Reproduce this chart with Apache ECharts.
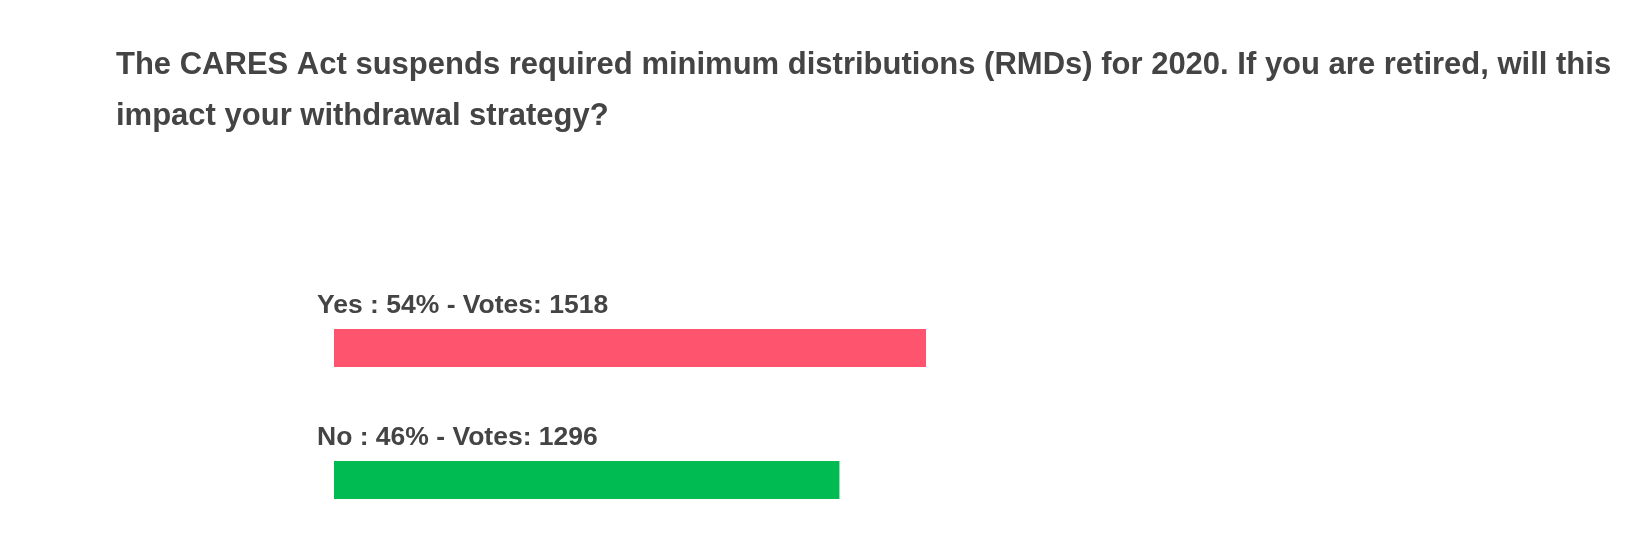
<!DOCTYPE html>
<html>
<head>
<meta charset="utf-8">
<script src="https://cdn.jsdelivr.net/npm/echarts@6/dist/echarts.min.js"></script>
<style>
html,body{margin:0;padding:0;background:#fff;}
#chart{width:1640px;height:558px;}
</style>
</head>
<body>
<div id="chart"></div>
<script>
const titleLines = [
  "The CARES Act suspends required minimum distributions (RMDs) for 2020. If you are retired, will this",
  "impact your withdrawal strategy?"
];
const categories = ["Yes", "No"];
const percents = [54, 46];
const votes = [1518, 1296];
const colors = ["#FF546E", "#00BA52"];

const chart = echarts.init(document.getElementById('chart'), null, {renderer: 'canvas'});
const font = "'Liberation Sans', Arial, Helvetica, sans-serif";
chart.setOption({
  backgroundColor: '#ffffff',
  animation: false,
  title: {
    text: titleLines.join("\n"),
    left: 111,
    top: 35,
    padding: 5,
    textStyle: {
      fontFamily: font,
      fontWeight: 'bold',
      fontSize: 31,
      lineHeight: 51,
      color: '#444444'
    }
  },
  grid: {left: 334, width: 1170, top: 282, height: 264, containLabel: false},
  xAxis: {
    type: 'value', min: 0, max: 3000,
    show: false
  },
  yAxis: {
    type: 'category', data: categories, inverse: true,
    show: false
  },
  series: [{
    type: 'bar',
    barWidth: 38,
    data: votes.map((v, i) => ({value: v, itemStyle: {color: colors[i]}})),
    label: {
      show: true,
      position: [-17, -23],
      align: 'left',
      verticalAlign: 'middle',
      fontFamily: font,
      fontWeight: 'bold',
      fontSize: 26.5,
      color: '#444444',
      formatter: p => `${categories[p.dataIndex]} : ${percents[p.dataIndex]}% - Votes: ${votes[p.dataIndex]}`
    }
  }]
});
</script>
</body>
</html>
